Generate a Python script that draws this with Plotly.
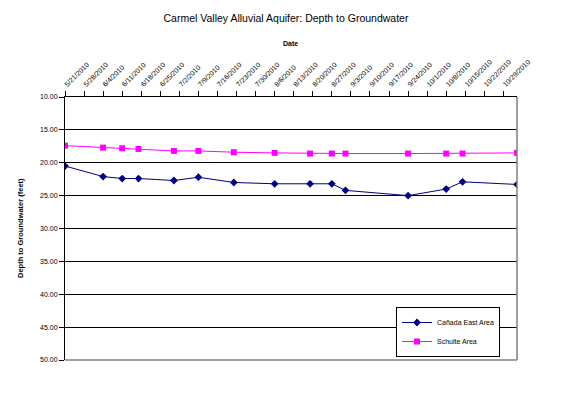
import plotly.graph_objects as go
import pandas as pd

dates = ["2010-05-21", "2010-06-04", "2010-06-11", "2010-06-17", "2010-06-30",
         "2010-07-09", "2010-07-22", "2010-08-06", "2010-08-19", "2010-08-27",
         "2010-09-01", "2010-09-24", "2010-10-08", "2010-10-14", "2010-11-03"]
canada_east = [20.5, 22.1, 22.4, 22.4, 22.7, 22.2, 23.0, 23.2, 23.2, 23.2,
               24.2, 25.0, 24.0, 22.9, 23.3]
schulte = [17.4, 17.7, 17.8, 17.9, 18.2, 18.2, 18.4, 18.5, 18.6, 18.6,
           18.6, 18.6, 18.6, 18.6, 18.5]

tick_dates = pd.date_range("2010-05-21", "2010-10-29", freq="7D")
tick_text = [f"{d.month}/{d.day}/{d.year}" for d in tick_dates]
y_ticks = [10, 15, 20, 25, 30, 35, 40, 45, 50]

FONT = "Liberation Sans, Arial, sans-serif"
W, H = 568, 385  # page body adds an 8px offset

fig = go.Figure()
fig.add_trace(go.Scatter(
    x=dates, y=canada_east, name="Cañada East Area", mode="lines+markers",
    line=dict(color="#000080", width=1),
    marker=dict(symbol="diamond", size=6, color="#000080")))
fig.add_trace(go.Scatter(
    x=dates, y=schulte, name="Schulte Area", mode="lines+markers",
    line=dict(color="#FF00FF", width=1),
    marker=dict(symbol="square", size=6, color="#FF00FF")))

fig.update_layout(
    width=W, height=H,
    margin=dict(l=57, r=59, t=89, b=33),
    paper_bgcolor="white", plot_bgcolor="white",
    font=dict(family=FONT, size=7, color="black"),
    title=dict(text="Carmel Valley Alluvial Aquifer: Depth to Groundwater",
               x=(286 - 8) / W, xanchor="center", y=1 - 10 / H, yanchor="middle",
               font=dict(family=FONT, size=10.5, color="black")),
    showlegend=True,
    legend=dict(x=(500 - 65) / 452, y=(360 - 357) / 263, xanchor="right", yanchor="bottom",
                bgcolor="white", bordercolor="black", borderwidth=1,
                font=dict(family=FONT, size=7, color="black"),
                tracegroupgap=0, itemwidth=30),
    xaxis=dict(type="date", side="top",
               range=["2010-05-21", "2010-11-03"],
               tickmode="array", tickvals=list(tick_dates), ticktext=tick_text,
               tickangle=-45, ticks="outside", ticklen=5, tickcolor="black",
               showline=True, linecolor="black", linewidth=1,
               showgrid=False, zeroline=False,
               tickfont=dict(family=FONT, size=7, color="black")),
    yaxis=dict(range=[50, 10], tickmode="array", tickvals=y_ticks,
               ticktext=[f"{v:.2f}" for v in y_ticks],
               ticks="outside", ticklen=5, tickcolor="black",
               showline=True, linecolor="black", linewidth=1,
               showgrid=True, gridcolor="black", gridwidth=1,
               zeroline=False,
               tickfont=dict(family=FONT, size=7, color="black")),
)

fig.add_annotation(text="<b>Date</b>", xref="paper", yref="paper",
                   x=(290 - 65) / 452, y=(360 - 44) / 263, xanchor="center", yanchor="middle",
                   showarrow=False,
                   font=dict(family=FONT, size=7, color="black"))
fig.add_annotation(text="<b>Depth to Groundwater (feet)</b>", xref="paper", yref="paper",
                   x=(20 - 65) / 452, y=(360 - 228) / 263, xanchor="center", yanchor="middle",
                   textangle=-90, showarrow=False,
                   font=dict(family=FONT, size=7.5, color="black"))

fig.add_shape(type="line", xref="paper", yref="paper", x0=0, x1=1, y0=0, y1=0,
              line=dict(color="#808080", width=1.5), layer="above")
fig.add_shape(type="line", xref="paper", yref="paper", x0=1, x1=1, y0=0, y1=1,
              line=dict(color="#808080", width=1.5), layer="above")

fig.write_html("out.html")
